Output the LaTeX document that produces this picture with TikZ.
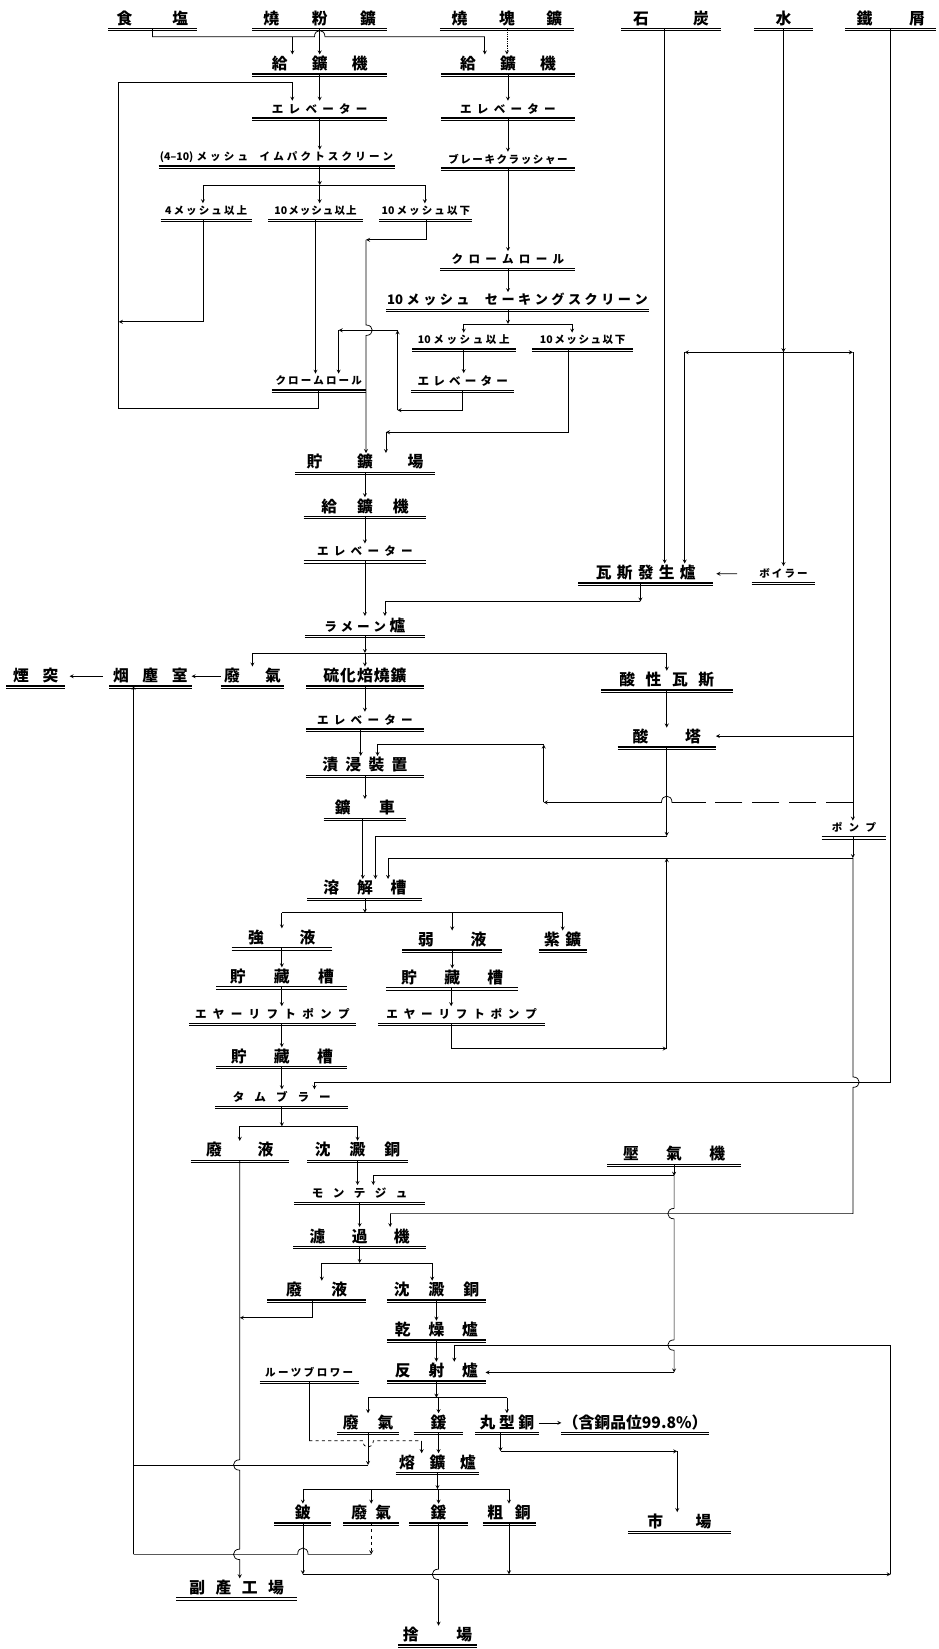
\documentclass[tikz,border=0pt]{standalone}
\usepackage{fontspec}
\newfontfamily\jp{Noto Sans CJK JP}
\usetikzlibrary{calc}
\makeatletter
\newcommand{\kspread}[2]{\def\kspr@gap{#1}\kspr@loop#2\@nil}
\def\kspr@loop#1#2\@nil{#1\ifx\relax#2\relax\else\hspace{\kspr@gap pt}\kspr@loop#2\@nil\fi}
\makeatother
% line hops: vertical going down (bulge right / left), horizontal (bulge up, going right / left), bulge down
\newcommand{\hopr}[1]{-- ($(#1)+(0,-5)$) .. controls ($(#1)+(8,-5)$) and ($(#1)+(8,5)$) .. ($(#1)+(0,5)$)}
\newcommand{\hopl}[1]{-- ($(#1)+(0,-5)$) .. controls ($(#1)+(-8,-5)$) and ($(#1)+(-8,5)$) .. ($(#1)+(0,5)$)}
\newcommand{\hopu}[1]{-- ($(#1)+(-5,0)$) .. controls ($(#1)+(-5,-8)$) and ($(#1)+(5,-8)$) .. ($(#1)+(5,0)$)}
\newcommand{\hopul}[1]{-- ($(#1)+(5,0)$) .. controls ($(#1)+(5,-8)$) and ($(#1)+(-5,-8)$) .. ($(#1)+(-5,0)$)}
\newcommand{\hopd}[1]{-- ($(#1)+(-5,0)$) .. controls ($(#1)+(-5,8)$) and ($(#1)+(5,8)$) .. ($(#1)+(5,0)$)}
\tikzset{
  kanji/.style={font=\jp\bfseries\fontsize{15}{15}\selectfont, text height=12pt, text depth=2pt, inner xsep=0pt, inner ysep=2pt},
  kana/.style={font=\jp\bfseries\fontsize{11}{11}\selectfont, text height=9pt, text depth=2pt, inner xsep=0pt, inner ysep=2.5pt},
  smallkana/.style={font=\jp\bfseries\fontsize{10}{10}\selectfont, text height=8pt, text depth=2pt, inner xsep=0pt, inner ysep=2.5pt},
  line/.style={line width=0.7pt},
  flow/.style={line, -stealth},
}
\begin{document}
\begin{tikzpicture}[x=1pt, y=-1pt]
	\useasboundingbox (0,0) rectangle (892,1568);
	
	% Raw materials
	\node[kanji, minimum width=84]  (salt)  at (145,18) {\kspread{38}{食塩}};
	\node[kanji, minimum width=128] (fines) at (304,18) {\kspread{31}{燒粉鑛}};
	\node[kanji, minimum width=127] (lump)  at (482,18) {\kspread{30}{燒塊鑛}};
	\node[kanji, minimum width=94]  (coal)  at (638,18) {\kspread{42}{石炭}};
	\node[kanji, minimum width=56]  (water) at (745,18) {水};
	\node[kanji, minimum width=86]  (scrap) at (847,18) {\kspread{35}{鐵屑}};
	
	% Crushing and screening
	\node[kanji, minimum width=128] (feedL) at (304,61) {\kspread{23}{給鑛機}};
	\node[kanji, minimum width=127] (feedR) at (483,61) {\kspread{23}{給鑛機}};
	\node[kana, minimum width=128] (elevL) at (304,104) {\kspread{5}{エレベーター}};
	\node[kana, minimum width=127] (elevR) at (483,104) {\kspread{5}{エレベーター}};
	\node[smallkana, minimum width=224] (screen) at (263,150) {\kspread{3}{{(4–10)}メッシュ{\hspace{5pt}}イムパクトスクリーン}};
	\node[smallkana, minimum width=127] (brk) at (483,152) {\kspread{1.5}{ブレーキクラッシャー}};
	\node[smallkana, minimum width=86] (mesh4) at (196,201) {\kspread{2}{{4}メッシュ以上}};
	\node[smallkana, minimum width=89] (meshA) at (300,201) {\kspread{1}{{10}メッシュ以上}};
	\node[smallkana, minimum width=88] (meshB) at (405,201) {\kspread{2}{{10}メッシュ以下}};
	\node[kana, minimum width=128] (chromeR) at (483,247) {\kspread{5}{クロームロール}};
	\node[kana, font=\jp\bfseries\fontsize{12.5}{13}\selectfont, minimum width=250] (sieve) at (492,286) {\kspread{3.3}{{10}メッシュ{\hspace{8pt}}セーキングスクリーン}};
	\node[smallkana, minimum width=98] (meshC) at (441,324) {\kspread{2.5}{{10}メッシュ以上}};
	\node[smallkana, minimum width=96] (meshD) at (554,324) {\kspread{1.5}{{10}メッシュ以下}};
	\node[kana, minimum width=98] (elevM) at (440,363) {\kspread{4}{エレベーター}};
	\node[smallkana, minimum width=89] (chromeS) at (303,363) {\kspread{2}{クロームロール}};
	
	% Roasting
	\node[kanji, minimum width=133] (store) at (347,440) {\kspread{33}{貯鑛場}};
	\node[kanji, minimum width=116] (feed2) at (347,482) {\kspread{19}{給鑛機}};
	\node[kana, minimum width=116] (elev2) at (347,525) {\kspread{5}{エレベーター}};
	\node[kanji, minimum width=128] (gasgen) at (614,545) {\kspread{5}{瓦斯發生爐}};
	\node[smallkana, minimum width=60] (boiler) at (745,546) {\kspread{2}{ボイラー}};
	\node[kanji, minimum width=114] (rame) at (347,595) {{\fontsize{12}{12}\selectfont\kspread{3.5}{ラメーン}}\hspace{3.5pt}爐};
	\node[kanji, minimum width=56] (chimney) at (34,643) {\kspread{13}{煙突}};
	\node[kanji, minimum width=78] (dust) at (143,643) {\kspread{13}{烟塵室}};
	\node[kanji, minimum width=60] (gas1) at (240,643) {\kspread{24}{廢氣}};
	\node[kanji, minimum width=111] (sulph) at (347,643) {\kspread{1}{硫化焙燒鑛}};
	\node[kanji, minimum width=125] (acidgas) at (634,647) {\kspread{10}{酸性瓦斯}};
	\node[kana, minimum width=111] (elev3) at (347,685) {\kspread{5}{エレベーター}};
	\node[kanji, minimum width=93] (acidtw) at (634,701) {\kspread{35}{酸塔}};
	\node[kanji, minimum width=112] (leach) at (347,728) {\kspread{7}{漬浸裝置}};
	\node[kanji, minimum width=78] (cart) at (347,769) {\kspread{27}{鑛車}};
	\node[smallkana, minimum width=61] (pump) at (812,788) {\kspread{6}{ポンプ}};
	\node[kanji, minimum width=109] (dissolve) at (347,845) {\kspread{17}{溶解槽}};
	
	% Leaching
	\node[kanji, minimum width=95] (strong) at (268,892) {\kspread{34}{強液}};
	\node[kanji, minimum width=95] (weak) at (430,894) {\kspread{35}{弱液}};
	\node[kanji, minimum width=45] (purple) at (535,894) {\kspread{5}{紫鑛}};
	\node[kanji, minimum width=124] (tankL) at (268,929) {\kspread{27}{貯藏槽}};
	\node[kanji, minimum width=125] (tankR) at (430,930) {\kspread{26}{貯藏槽}};
	\node[kana, minimum width=158] (airL) at (259,965) {\kspread{6}{エヤーリフトポンプ}};
	\node[kana, minimum width=158] (airR) at (439,965) {\kspread{5.5}{エヤーリフトポンプ}};
	\node[kanji, minimum width=124] (tankL2) at (268,1005) {\kspread{26}{貯藏槽}};
	\node[kana, minimum width=126] (tumbler) at (268,1044) {\kspread{9.5}{タムブラー}};
	
	% Precipitation
	\node[kanji, minimum width=93] (waste1) at (228,1094) {\kspread{34}{廢液}};
	\node[kanji, minimum width=95] (cement1) at (340,1094) {\kspread{18}{沈澱銅}};
	\node[kanji, minimum width=127] (comp) at (641,1098) {\kspread{26}{壓氣機}};
	\node[kana, minimum width=124] (montejus) at (342,1135) {\kspread{9}{モンテジュ}};
	\node[kanji, minimum width=126] (filter) at (342,1176) {\kspread{25}{濾過機}};
	\node[kanji, minimum width=93] (waste2) at (301,1227) {\kspread{28}{廢液}};
	\node[kanji, minimum width=94] (cement2) at (415,1227) {\kspread{18}{沈澱銅}};
	\node[kanji, minimum width=94] (dryer) at (415,1265) {\kspread{17}{乾燥爐}};
	
	% Smelting
	\node[kanji, minimum width=93] (reverb) at (415,1304) {\kspread{17}{反射爐}};
	\node[smallkana, minimum width=94] (roots) at (294,1306) {\kspread{2.3}{ルーツブロワー}};
	\node[kanji, minimum width=58] (gas2) at (350,1353) {\kspread{18}{廢氣}};
	\node[kanji, minimum width=47] (slag1) at (417,1353) {鍰};
	\node[kanji, minimum width=60] (wirebar) at (482,1353) {\kspread{3.5}{丸型銅}};
	\node[kanji, minimum width=140] (grade) at (604,1353) {（含銅品位99.8\%）};
	\node[kanji, minimum width=79] (blast) at (416,1391) {\kspread{14}{熔鑛爐}};
	\node[kanji, minimum width=54] (matte) at (288,1439) {鈹};
	\node[kanji, minimum width=53] (gas3) at (353,1439) {\kspread{8}{廢氣}};
	\node[kanji, minimum width=56] (slag2) at (417,1439) {鍰};
	\node[kanji, minimum width=50] (blister) at (484,1439) {\kspread{11}{粗銅}};
	\node[kanji, minimum width=97] (market) at (646,1447) {\kspread{31}{市場}};
	\node[kanji, minimum width=114] (byprod) at (225,1510) {\kspread{10}{副產工場}};
	\node[kanji, minimum width=74] (dump) at (416,1555) {\kspread{36}{捨場}};
	
	% Double underlines
	\foreach \n in {salt,fines,lump,coal,water,scrap,feedL,feedR,elevL,elevR,screen,brk,mesh4,meshA,meshB,chromeR,sieve,meshC,meshD,elevM,chromeS,store,feed2,elev2,gasgen,boiler,rame,chimney,dust,gas1,sulph,acidgas,elev3,acidtw,leach,cart,pump,dissolve,strong,weak,purple,tankL,tankR,airL,airR,tankL2,tumbler,waste1,cement1,comp,montejus,filter,waste2,cement2,dryer,reverb,roots,gas2,slag1,wirebar,grade,blast,matte,gas3,slag2,blister,market,byprod,dump} {
		\draw[line width=1.3pt] (\n.south west) -- (\n.south east);
		\draw[line width=0.4pt] ([yshift=-2pt]\n.south west) -- ([yshift=-2pt]\n.south east);
	}
	
	% Feeders
	\coordinate (s1) at (145,35);
	\coordinate (s2) at (461,35);
	\coordinate (s3) at (278,35);
	\draw[line] (salt) -- (s1) \hopu{304,35} -- (s2);
	\draw[flow] (s3) -- (s3 |- feedL.north);
	\draw[flow] (s2) -- (s2 |- feedR.north);
	\draw[flow] (fines) -- (feedL);
	\draw[flow, densely dotted] (lump.south) -- (lump.south |- feedR.north);
	\draw[flow] (feedL) -- (elevL);
	\draw[flow] (feedR) -- (elevR);
	\draw[flow] (elevL.south) -- (elevL.south |- screen.north);
	\draw[flow] (elevR) -- (brk);
	
	% Impact screen
	\coordinate (b0) at (304,176);
	\coordinate (b1) at (193,176);
	\coordinate (b2) at (404,176);
	\draw[flow] (screen.south -| b0) -- (b0);
	\draw[line] (b1) -- (b2);
	\draw[flow] (b1) -- (b1 |- mesh4.north);
	\draw[flow] (b0) -- (b0 |- meshA.north);
	\draw[flow] (b2) -- (b2 |- meshB.north);
	\coordinate (m4) at (193,306);
	\coordinate (L1) at (113,306);
	\draw[flow] (mesh4.south -| m4) -- (m4) -- (L1);
	\draw[flow] (meshA.south) -- (meshA.south |- chromeS.north);
	\coordinate (mb) at (348,228);
	\draw[flow] (meshB.south) |- (mb);
	\draw[flow] (mb) \hopr{348,314} -- (mb |- store.north);
	\coordinate (c1) at (303,388);
	\coordinate (c2) at (113,388);
	\coordinate (c3) at (113,78);
	\coordinate (c4) at (278,78);
	\draw[line] (chromeS) -- (c1) -- (c2) -- (c3) -- (c4);
	\draw[flow] (c4) -- (c4 |- elevL.north);
	
	% Lump ore line
	\draw[flow] (brk) -- (chromeR);
	\draw[flow] (chromeR.south) -- (chromeR.south |- sieve.north);
	\coordinate (v0) at (483,308);
	\coordinate (v1) at (441,308);
	\coordinate (v2) at (544,308);
	\draw[flow] (chromeR.south |- sieve.south) -- (v0);
	\draw[line] (v1) -- (v2);
	\draw[flow] (v1) -- (meshC);
	\draw[flow] (v2) -- (v2 |- meshD.north);
	\draw[flow] (meshC.south) -- (meshC.south |- elevM.north);
	\coordinate (e1) at (440,390);
	\coordinate (e2) at (378,390);
	\coordinate (e3) at (378,314);
	\coordinate (e4) at (322,314);
	\draw[flow] (elevM) -- (e1) -- (e2);
	\draw[flow] (e2) -- (e3);
	\draw[flow] (e3) -- (e4);
	\draw[flow] (e4) -- (e4 |- chromeS.north);
	\coordinate (d1) at (540,411);
	\coordinate (d2) at (367,411);
	\draw[flow] (meshD.south -| d1) -- (d1) -- (d2);
	\draw[flow] (d2) -- (d2 |- store.north);
	
	% Roasting
	\draw[flow] (store) -- (feed2);
	\draw[flow] (feed2) -- (elev2);
	\draw[flow] (elev2) -- (rame);
	\draw[flow] ([xshift=-6pt]coal.south) -- ([xshift=-6pt]coal.south |- gasgen.north);
	\coordinate (w1) at (745,335);
	\coordinate (w2) at (651,335);
	\coordinate (w3) at (811,335);
	\draw[flow] (water) -- (w1);
	\draw[flow] (w1) -- (boiler);
	\draw[flow] (w1) -- (w2);
	\draw[flow] (w2) -- (w2 |- gasgen.north);
	\draw[flow] (w1) -- (w3);
	\draw[flow] (w3) -- (w3 |- pump.north);
	\draw[flow, shorten <=14pt, shorten >=3pt] (boiler) -- (gasgen);
	\coordinate (g1) at (609,572);
	\coordinate (g2) at (366,572);
	\draw[flow] (gasgen.south -| g1) -- (g1);
	\draw[flow] (g1) -- (g2) -- (g2 |- rame.north);
	
	% Roaster products
	\coordinate (r1) at (347,621);
	\draw[flow] (rame) -- (r1);
	\draw[line] (r1 -| gas1) -- (r1 -| acidgas);
	\draw[flow] (r1 -| gas1) -- (gas1);
	\draw[flow] (r1) -- (sulph);
	\draw[flow] (r1 -| acidgas) -- (acidgas);
	\draw[flow] (gas1) -- (dust);
	\draw[flow, shorten <=6pt, shorten >=4pt] (dust) -- (chimney);
	\draw[flow] (sulph) -- (elev3);
	\draw[flow] ([xshift=-4pt]elev3.south) -- ([xshift=-4pt]leach.north);
	\draw[flow] (leach) -- (cart);
	\draw[flow] (acidgas) -- (acidtw);
	\coordinate (w4) at (811,700);
	\draw[flow] (w4) -- (w4 -| acidtw.east);
	\coordinate (w5) at (811,763);
	\coordinate (w9) at (645,763);
	\coordinate (w6) at (517,763);
	\coordinate (w7) at (517,708);
	\coordinate (w8) at (359,708);
	\draw[line, dash pattern=on 26pt off 9pt] (w5) -- (w9);
	\draw[flow] (w9) \hopul{634,763} -- (w6);
	\draw[flow] (w6) -- (w7);
	\draw[flow] (w7) -- (w8) -- (w8 |- leach.north);
	
	% Dissolving tank
	\draw[flow] ([xshift=-2pt]cart.south) -- ([xshift=-2pt]dissolve.north);
	\coordinate (a1) at (634,795);
	\coordinate (a2) at (357,795);
	\draw[flow] (acidtw) -- (a1);
	\draw[flow] (a1) -- (a2) -- (a2 |- dissolve.north);
	\coordinate (p1) at (811,816);
	\coordinate (p2) at (369,816);
	\draw[flow] (pump.south -| p1) -- (p1);
	\draw[flow] (p1) -- (p2) -- (p2 |- dissolve.north);
	\coordinate (d0) at (347,868);
	\draw[flow] (dissolve) -- (d0);
	\draw[line] (d0 -| strong) -- (d0 -| purple);
	\draw[flow] (d0 -| strong) -- (strong);
	\draw[flow] (d0 -| weak) -- (weak);
	\draw[flow] (d0 -| purple) -- (purple);
	\draw[flow] (strong) -- (tankL);
	\draw[flow] (tankL.south) -- (tankL.south |- airL.north);
	\draw[flow] (airL.south -| tankL2) -- (tankL2);
	\draw[flow] (tankL2) -- (tumbler);
	\draw[flow] (weak) -- (tankR);
	\draw[flow] ([xshift=-1pt]tankR.south) -- ([xshift=-1pt]tankR.south |- airR.north);
	\coordinate (ar1) at (429,997);
	\coordinate (ar2) at (634,997);
	\draw[flow] (airR.south -| ar1) -- (ar1) -- (ar2);
	\draw[flow] (ar2) -- (ar2 |- p1);
	
	% Iron scrap and pump water
	\coordinate (sc1) at (847,1029);
	\coordinate (sc2) at (299,1029);
	\draw[line] (scrap) -- (sc1) -- (sc2);
	\draw[flow] (sc2) -- (sc2 |- tumbler.north);
	\coordinate (p3) at (811,1154);
	\coordinate (p4) at (371,1154);
	\draw[line] (p1) \hopr{811,1029} -- (p3) -- (p4);
	\draw[flow] (p4) -- (p4 |- filter.north);
	
	% Cement copper
	\coordinate (t0) at (268,1071);
	\draw[flow] (tumbler) -- (t0);
	\draw[line] (t0 -| waste1) -- (t0 -| cement1);
	\draw[flow] (t0 -| waste1) -- (waste1);
	\draw[flow] (t0 -| cement1) -- (cement1);
	\draw[flow] (cement1.south) -- (cement1.south |- montejus.north);
	\coordinate (cp1) at (641,1118);
	\coordinate (cp2) at (355,1118);
	\coordinate (cp3) at (641,1305);
	\draw[flow] (comp) -- (cp1);
	\draw[flow] (cp1) -- (cp2) -- (cp2 |- montejus.north);
	\draw[flow] (cp1) \hopl{641,1154} \hopl{641,1279} -- (cp3);
	\draw[flow] (cp3) -- (cp3 -| reverb.east);
	\draw[flow] (montejus) -- (filter);
	\coordinate (f0) at (342,1201);
	\coordinate (f1) at (306,1201);
	\coordinate (f2) at (411,1201);
	\draw[flow] (filter) -- (f0);
	\draw[line] (f1) -- (f2);
	\draw[flow] (f1) -- (f1 |- waste2.north);
	\draw[flow] (f2) -- (f2 |- cement2.north);
	\coordinate (wl1) at (297,1253);
	\coordinate (wl2) at (228,1253);
	\draw[flow] (waste2.south -| wl1) -- (wl1) -- (wl2);
	\draw[flow] (waste1) \hopl{228,1393} \hopl{228,1478} -- (waste1.south |- byprod.north);
	\draw[flow] (cement2) -- (dryer);
	\draw[flow] (dryer) -- (reverb);
	
	% Reverberatory furnace
	\coordinate (rv0) at (415,1329);
	\draw[flow] (reverb) -- (rv0);
	\draw[line] (rv0 -| gas2) -- (rv0 -| wirebar);
	\draw[flow] (rv0 -| gas2) -- (gas2);
	\draw[flow] (rv0 -| slag1) -- (slag1);
	\draw[flow] (rv0 -| wirebar) -- (wirebar);
	\draw[flow] (wirebar) -- (grade);
	\coordinate (wb1) at (476,1380);
	\coordinate (wb2) at (644,1380);
	\draw[flow] (wirebar.south -| wb1) -- (wb1);
	\draw[flow] (wb1) -- (wb2);
	\draw[flow] (wb2) -- (wb2 |- market.north);
	\coordinate (ro1) at (294,1370);
	\coordinate (ro2) at (401,1370);
	\draw[line] (roots) -- (ro1);
	\draw[line, dashed] (ro1) \hopd{350,1370} -- (ro2);
	\draw[flow] (ro2) -- (ro2 |- blast.north);
	\draw[flow] (slag1.south) -- (slag1.south |- blast.north);
	\coordinate (sm4) at (127,1393);
	\draw[flow] (gas2.south) -- (gas2.south |- sm4);
	\draw[line] (gas2.south |- sm4) -- (sm4);
	
	% Blast furnace
	\coordinate (bl0) at (416,1416);
	\draw[flow] (blast) -- (bl0);
	\draw[line] (bl0 -| matte) -- (bl0 -| blister);
	\foreach \n in {matte,gas3,slag2,blister}
		\draw[flow] (bl0 -| \n) -- (\n);
	\coordinate (sm1) at (353,1478);
	\coordinate (sm2) at (127,1478);
	\draw[flow, dashed] (gas3) -- (sm1);
	\draw[line] (sm1) \hopul{288,1478} -- (sm2);
	\draw[flow] (sm2) -- (sm2 |- dust.south);
	\coordinate (rt1) at (847,1497);
	\coordinate (rt2) at (847,1279);
	\coordinate (rt3) at (432,1279);
	\draw[flow] (matte) -- (matte.south |- rt1);
	\draw[flow] (blister) -- (blister.south |- rt1);
	\draw[flow] (matte.south |- rt1) -- (rt1);
	\draw[line] (rt1) -- (rt2) -- (rt3);
	\draw[flow] (rt3) -- (rt3 |- reverb.north);
	\draw[flow] (slag2) \hopl{417,1497} -- (slag2.south |- dump.north);
\end{tikzpicture}
\end{document}
